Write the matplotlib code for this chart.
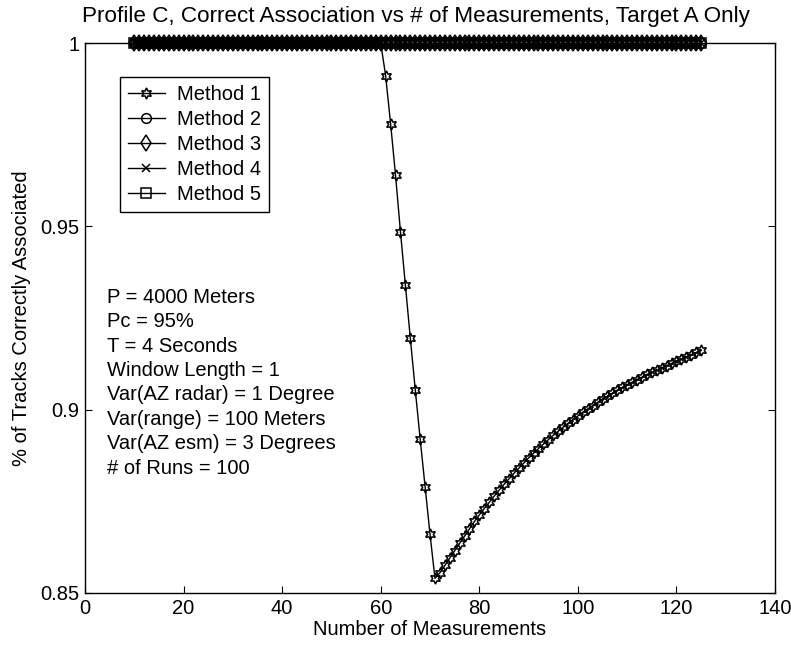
import numpy as np
import matplotlib
matplotlib.use("Agg")
import matplotlib.pyplot as plt

plt.rcParams.update({"font.family": ["Liberation Sans", "DejaVu Sans"],
                     "font.size": 14.5, "xtick.direction": "in",
                     "ytick.direction": "in", "axes.linewidth": 1.0})

# number of measurements (x) for every run
N_MEAS = np.arange(10, 126)

# Method 1: stays at 1 up to 60 measurements, then drops and recovers
M1_FLAT_END = 60
M1_TAIL = [0.991, 0.978, 0.964, 0.9485, 0.934, 0.9195, 0.9055, 0.892, 0.879, 0.866,   # 61-70
           0.854, 0.8555, 0.8575, 0.8595, 0.8615, 0.8635, 0.8655, 0.8675, 0.8695, 0.8713,  # 71-80
           0.873, 0.8747, 0.8764, 0.878, 0.8796, 0.8811, 0.8826, 0.884, 0.8854, 0.8868,    # 81-90
           0.8881, 0.8894, 0.8906, 0.8918, 0.893, 0.8941, 0.8952, 0.8963, 0.8973, 0.8983,  # 91-100
           0.8993, 0.9002, 0.9011, 0.902, 0.9029, 0.9037, 0.9045, 0.9053, 0.9061, 0.9068,  # 101-110
           0.9075, 0.9082, 0.9089, 0.9096, 0.9102, 0.9108, 0.9114, 0.912, 0.9126, 0.9132,  # 111-120
           0.9138, 0.9144, 0.915, 0.9156, 0.9162]                                          # 121-125
method1 = np.concatenate([np.ones(M1_FLAT_END - N_MEAS[0] + 1), M1_TAIL])

# Methods 2-5 associate every track correctly
method2 = np.ones(len(N_MEAS))
method3 = np.ones(len(N_MEAS))
method4 = np.ones(len(N_MEAS))
method5 = np.ones(len(N_MEAS))

NAMES = ["Method 1", "Method 2", "Method 3", "Method 4", "Method 5"]
MARKERS = [(6, 1, 0), "o", "d", "x", "s"]  # six-point star like MATLAB 'h'
SIZES = [8, 7, 8, 6, 7]

INFO = ("P = 4000 Meters\nPc = 95%\nT = 4 Seconds\nWindow Length = 1\n"
        "Var(AZ radar) = 1 Degree\nVar(range) = 100 Meters\n"
        "Var(AZ esm) = 3 Degrees\n# of Runs = 100")

fig = plt.figure(figsize=(7.91, 6.49), dpi=100)
ax = fig.add_axes([0.1075, 0.0863, 0.8723, 0.8474])

for y, name, mk, ms in zip([method1, method2, method3, method4, method5],
                           NAMES, MARKERS, SIZES):
    ax.plot(N_MEAS, y, color="k", lw=1.0, marker=mk, markersize=ms,
            markerfacecolor="none", markeredgecolor="k", markeredgewidth=1.1,
            label=name, clip_on=False, zorder=3)

ax.set_xlim(0, 140)
ax.set_ylim(0.85, 1.0)
ax.set_xticks(np.arange(0, 141, 20))
ax.set_yticks([0.85, 0.9, 0.95, 1.0])
ax.set_yticklabels(["0.85", "0.9", "0.95", "1"])
ax.tick_params(top=True, right=True, length=5, pad=4)

ax.set_title("Profile C, Correct Association vs # of Measurements, Target A Only",
             fontsize=16.2, pad=15, x=0.48)
ax.set_xlabel("Number of Measurements", labelpad=2)
ax.set_ylabel("% of Tracks Correctly Associated", labelpad=7)

leg = ax.legend(loc="upper left", bbox_to_anchor=(0.051, 0.938), borderaxespad=0,
                frameon=True, fancybox=False, edgecolor="k", framealpha=1,
                handlelength=1.8, borderpad=0.4, labelspacing=0.3,
                handletextpad=0.6)
leg.get_frame().set_linewidth(1.0)

ax.text(0.032, 0.555, INFO, transform=ax.transAxes, va="top", ha="left",
        fontsize=14.5, linespacing=1.36)

fig.savefig("out.png", dpi=100)
